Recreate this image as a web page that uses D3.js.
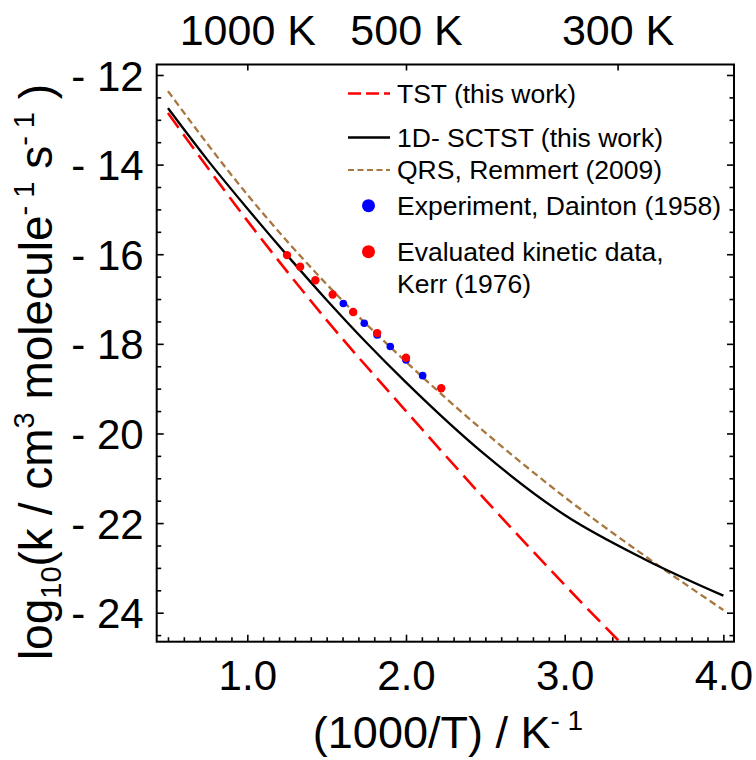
<!DOCTYPE html>
<html>
<head>
<meta charset="utf-8">
<script src="https://cdn.jsdelivr.net/npm/d3@7"></script>
<style>
  html, body { margin: 0; padding: 0; background: #fff; }
  svg { display: block; font-family: "Liberation Sans", Arial, sans-serif; }
</style>
</head>
<body>
<svg id="chart" width="756" height="760"></svg>
<script>
// ---- data ----
const tstX   = [0.5, 1.0, 1.5, 2.0, 2.5, 3.0, 3.5];
const tstY   = [-12.85, -15.25, -17.47, -19.50, -21.48, -23.38, -25.20];

const sctstX = [0.5, 0.75, 1.0, 1.25, 1.5, 1.75, 2.0, 2.5, 3.0, 3.5, 4.0];
const sctstY = [-12.74, -13.90, -14.98, -16.02, -17.02, -17.97, -18.86, -20.48, -21.82, -22.80, -23.62];

const qrsX   = [0.5, 1.0, 1.5, 2.0, 2.5, 3.0, 3.5, 4.0];
const qrsY   = [-12.36, -14.67, -16.67, -18.40, -19.98, -21.42, -22.72, -23.94];

const daintonX = [1.605, 1.737, 1.818, 1.901, 2.0, 2.105];
const daintonY = [-17.10, -17.54, -17.80, -18.06, -18.36, -18.71];

const kerrX = [1.25, 1.333, 1.429, 1.538, 1.667, 1.818, 2.0, 2.222];
const kerrY = [-16.02, -16.28, -16.58, -16.90, -17.29, -17.76, -18.31, -18.99];

const xTicks = [1.0, 2.0, 3.0, 4.0];
const yTicks = [-12, -14, -16, -18, -20, -22, -24];
const topTickX = [1.0, 2.0, 1000 / 300];
const topTickLabels = ["1000 K", "500 K", "300 K"];

const legendItems = [
  { kind: "line", color: "#ff0000", dash: "13,5", width: 2.5, label: ["TST (this work)"] },
  { kind: "line", color: "#000000", dash: null, width: 2.3, label: ["1D- SCTST (this work)"] },
  { kind: "line", color: "#a8773f", dash: "6,3.5", width: 2.2, label: ["QRS, Remmert (2009)"] },
  { kind: "dot", color: "#0000ff", label: ["Experiment, Dainton (1958)"] },
  { kind: "dot", color: "#ff0000", label: ["Evaluated kinetic data,", "Kerr (1976)"] }
];

// ---- layout ----
const svg = d3.select("#chart");
const L = 156.7, R = 734, T = 64.5, B = 641.7;

const x = d3.scaleLinear().domain([0.429, 4.067]).range([L, R]);
const y = d3.scaleLinear().domain([-11.766, -24.647]).range([T, B]);

svg.append("rect").attr("width", 756).attr("height", 760).attr("fill", "#fff");

svg.append("defs").append("clipPath").attr("id", "plotclip")
  .append("rect").attr("x", L).attr("y", T).attr("width", R - L).attr("height", B - T);

const plot = svg.append("g").attr("clip-path", "url(#plotclip)");

const line = d3.line().x(d => x(d[0])).y(d => y(d[1])).curve(d3.curveMonotoneX);

plot.append("path").datum(d3.zip(qrsX, qrsY))
  .attr("d", line).attr("fill", "none").attr("stroke", "#a8773f")
  .attr("stroke-width", 2.3).attr("stroke-dasharray", "7,4");

plot.append("path").datum(d3.zip(sctstX, sctstY))
  .attr("d", line).attr("fill", "none").attr("stroke", "#000")
  .attr("stroke-width", 2.3);

plot.append("path").datum(d3.zip(tstX, tstY))
  .attr("d", line).attr("fill", "none").attr("stroke", "#ff0000")
  .attr("stroke-width", 2.6).attr("stroke-dasharray", "18,8");

plot.selectAll("circle.dainton").data(d3.zip(daintonX, daintonY)).enter()
  .append("circle").attr("class", "dainton")
  .attr("cx", d => x(d[0])).attr("cy", d => y(d[1])).attr("r", 3.8)
  .attr("fill", "#0000ff");

plot.selectAll("circle.kerr").data(d3.zip(kerrX, kerrY)).enter()
  .append("circle").attr("class", "kerr")
  .attr("cx", d => x(d[0])).attr("cy", d => y(d[1])).attr("r", 4.2)
  .attr("fill", "#ff0000");

// ---- axes ----
const tickFmt = d => "- " + Math.abs(d);

// bottom
const xMinor = d3.range(5, 41).map(v => v / 10).filter(v => !xTicks.some(t => Math.abs(t - v) < 1e-9));
const bottomMinor = d3.axisBottom(x).tickValues(xMinor).tickSize(-4.5).tickFormat("");
const bottomMajor = d3.axisBottom(x).tickValues(xTicks).tickSize(-7).tickPadding(18).tickFormat(d3.format(".1f"));
svg.append("g").attr("transform", `translate(0,${B})`).call(bottomMinor);
svg.append("g").attr("class", "xmaj").attr("transform", `translate(0,${B})`).call(bottomMajor);

// left
const yMinor = d3.range(-24.5, -11.9, 0.5).filter(v => !yTicks.includes(v));
svg.append("g").attr("transform", `translate(${L},0)`)
  .call(d3.axisLeft(y).tickValues(yMinor).tickSize(-4.5).tickFormat(""));
svg.append("g").attr("class", "ymaj").attr("transform", `translate(${L},0)`)
  .call(d3.axisLeft(y).tickValues(yTicks).tickSize(-7).tickPadding(13).tickFormat(tickFmt));

// right
svg.append("g").attr("transform", `translate(${R},0)`)
  .call(d3.axisRight(y).tickValues(yMinor).tickSize(-4.5).tickFormat(""));
svg.append("g").attr("transform", `translate(${R},0)`)
  .call(d3.axisRight(y).tickValues(yTicks).tickSize(-7).tickFormat(""));

// top
svg.append("g").attr("class", "topax").attr("transform", `translate(0,${T})`)
  .call(d3.axisTop(x).tickValues(topTickX).tickSize(-6).tickPadding(20)
    .tickFormat((d, i) => topTickLabels[i]));

svg.selectAll(".domain").attr("stroke", "none");
svg.selectAll(".tick line").attr("stroke", "#000").attr("stroke-width", 1.6);
svg.selectAll(".tick text").attr("fill", "#000").attr("font-family", "Liberation Sans, Arial, sans-serif");
svg.selectAll(".xmaj .tick text").attr("font-size", 42);
svg.selectAll(".ymaj .tick text").attr("font-size", 42).attr("dy", "0.36em");
svg.selectAll(".topax .tick text").attr("font-size", 43);

// frame
svg.append("rect").attr("x", L).attr("y", T).attr("width", R - L).attr("height", B - T)
  .attr("fill", "none").attr("stroke", "#000").attr("stroke-width", 2);

// ---- axis titles ----
const xt = svg.append("text").attr("x", 448).attr("y", 748).attr("text-anchor", "middle")
  .attr("font-size", 45).attr("fill", "#000");
xt.append("tspan").text("(1000/T) / K");
xt.append("tspan").attr("font-size", 28).attr("dy", -18).text("- 1");

const yt = svg.append("text").attr("transform", "translate(52,372) rotate(-90)")
  .attr("text-anchor", "middle").attr("font-size", 46).attr("fill", "#000");
yt.append("tspan").text("log");
yt.append("tspan").attr("font-size", 29).attr("dy", 9).text("10");
yt.append("tspan").attr("dy", -9).text("(k / cm");
yt.append("tspan").attr("font-size", 29).attr("dy", -18).text("3");
yt.append("tspan").attr("dy", 18).text(" molecule");
yt.append("tspan").attr("font-size", 29).attr("dy", -18).text("- 1");
yt.append("tspan").attr("dy", 18).text("  s");
yt.append("tspan").attr("font-size", 29).attr("dy", -18).text("- 1");
yt.append("tspan").attr("dy", 18).text(" )");

// ---- legend ----
const legY = [93.5, 137.5, 170, 205.7, 251.7];
const lg = svg.append("g");
legendItems.forEach((it, i) => {
  const yy = legY[i];
  if (it.kind === "line") {
    const l = lg.append("line").attr("x1", 348).attr("x2", 390).attr("y1", yy).attr("y2", yy)
      .attr("stroke", it.color).attr("stroke-width", it.width);
    if (it.dash) l.attr("stroke-dasharray", it.dash);
  } else {
    lg.append("circle").attr("cx", 368.5).attr("cy", yy).attr("r", 6.5).attr("fill", it.color);
  }
  it.label.forEach((t, j) => {
    lg.append("text").attr("x", 397).attr("y", yy + 9 + j * 32)
      .attr("font-size", 26.5).attr("fill", "#000").text(t);
  });
});
</script>
</body>
</html>
